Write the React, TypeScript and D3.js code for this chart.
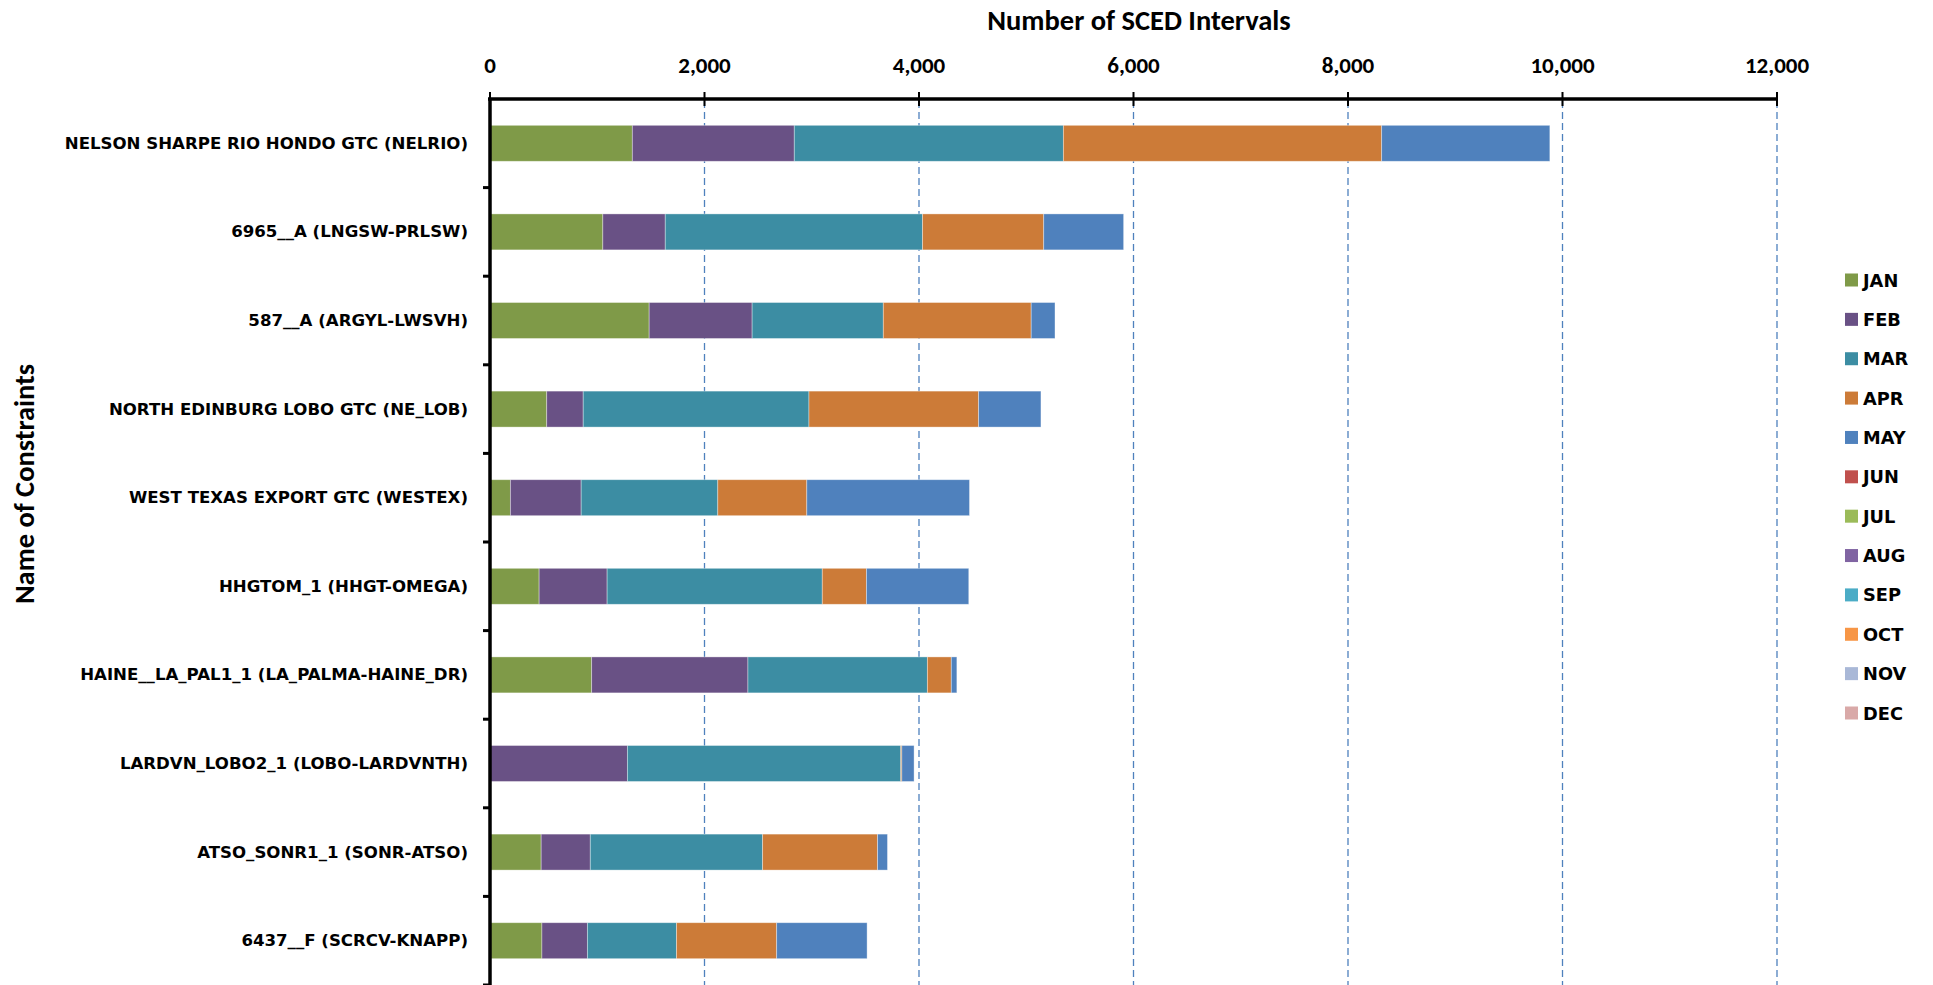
import React from "react";
import * as d3 from "d3";

const categories = [
  "NELSON SHARPE RIO HONDO GTC (NELRIO)",
  "6965__A (LNGSW-PRLSW)",
  "587__A (ARGYL-LWSVH)",
  "NORTH EDINBURG LOBO GTC (NE_LOB)",
  "WEST TEXAS EXPORT GTC (WESTEX)",
  "HHGTOM_1 (HHGT-OMEGA)",
  "HAINE__LA_PAL1_1 (LA_PALMA-HAINE_DR)",
  "LARDVN_LOBO2_1 (LOBO-LARDVNTH)",
  "ATSO_SONR1_1 (SONR-ATSO)",
  "6437__F (SCRCV-KNAPP)",
];

const months = ["JAN", "FEB", "MAR", "APR", "MAY", "JUN", "JUL", "AUG", "SEP", "OCT", "NOV", "DEC"];

const jan = [1327, 1052, 1484, 529, 190, 458, 948, 0, 477, 484];
const feb = [1510, 582, 960, 340, 660, 634, 1457, 1281, 458, 424];
const mar = [2509, 2399, 1223, 2105, 1274, 2006, 1673, 2549, 1607, 831];
const apr = [2968, 1130, 1379, 1582, 830, 412, 223, 10, 1072, 934];
const may = [1568, 745, 222, 581, 1517, 954, 52, 114, 92, 843];
const jun = [0, 0, 0, 0, 0, 0, 0, 0, 0, 0];
const jul = [0, 0, 0, 0, 0, 0, 0, 0, 0, 0];
const aug = [0, 0, 0, 0, 0, 0, 0, 0, 0, 0];
const sep = [0, 0, 0, 0, 0, 0, 0, 0, 0, 0];
const oct = [0, 0, 0, 0, 0, 0, 0, 0, 0, 0];
const nov = [0, 0, 0, 0, 0, 0, 0, 0, 0, 0];
const dec = [0, 0, 0, 0, 0, 0, 0, 0, 0, 0];

const monthColors = [
  "#7F9A48", "#695185", "#3C8DA3", "#CC7B38", "#4F81BD", "#C0504D",
  "#9BBB59", "#8064A2", "#4BACC6", "#F79646", "#A9B8D7", "#D9A9A8",
];

const xTicks = [0, 2000, 4000, 6000, 8000, 10000, 12000];

const xTitle = "Number of SCED Intervals";
const yTitle = "Name of Constraints";

const seriesValues = [jan, feb, mar, apr, may, jun, jul, aug, sep, oct, nov, dec];

const narrow = "Carlito, 'Liberation Sans Narrow', 'Open Sans Condensed', 'Liberation Sans', sans-serif";
const wide = "'DejaVu Sans', Verdana, sans-serif";

export default function App() {
  const W = 1933;
  const H = 985;
  const x = d3.scaleLinear().domain([0, 12000]).range([490, 1777]);
  const y = d3.scaleBand<string>().domain(categories).range([99, 985]).paddingInner(0.594).paddingOuter(0.297);

  const table = categories.map((c, i) => {
    const row: any = { cat: c };
    months.forEach((m, j) => (row[m] = seriesValues[j][i]));
    return row;
  });
  const stacked = d3.stack<any>().keys(months)(table);

  const boundaries = categories.map((_, i) => 99 + y.step() * (i + 1));

  const legendY = d3.scalePoint<string>().domain(months).range([280, 713]);

  return (
    <svg width={W} height={H} style={{ position: "absolute", left: 0, top: 0, background: "#fff" }}>
      {xTicks.filter((t) => t > 0).map((t) => (
        <line key={"g" + t} x1={x(t)} x2={x(t)} y1={101} y2={H} stroke="#4F81BD" strokeWidth={1.3} strokeDasharray="7,4" />
      ))}
      {stacked.map((s, j) => (
        <g key={months[j]} fill={monthColors[j]}>
          {s.map((d, i) =>
            d[1] - d[0] > 0 ? (
              <rect
                key={i}
                x={x(d[0])}
                y={y(categories[i])!}
                width={x(d[1]) - x(d[0])}
                height={y.bandwidth()}
                stroke="#ffffff"
                strokeOpacity={0.45}
                strokeWidth={0.8}
              />
            ) : null
          )}
        </g>
      ))}
      <line x1={x(0) - 2} x2={x(12000) + 1} y1={99} y2={99} stroke="#000" strokeWidth={3.5} />
      {xTicks.map((t) => (
        <line key={"t" + t} x1={x(t)} x2={x(t)} y1={92} y2={106} stroke="#000" strokeWidth={2} />
      ))}
      {xTicks.map((t) => (
        <text
          key={"l" + t}
          x={x(t)}
          y={65}
          textAnchor="middle"
          dominantBaseline="central"
          fontFamily={narrow}
          fontWeight="bold"
          fontSize={23}
          fill="#000"
        >
          {d3.format(",")(t)}
        </text>
      ))}
      <text x={1139} y={20} textAnchor="middle" dominantBaseline="central" fontFamily={narrow} fontWeight="bold" fontSize={28.5}>
        {xTitle}
      </text>
      <line x1={x(0)} x2={x(0)} y1={99} y2={H} stroke="#000" strokeWidth={3.5} />
      {boundaries.map((b, i) => (
        <line key={"b" + i} x1={x(0) - 7} x2={x(0)} y1={b} y2={b} stroke="#000" strokeWidth={3} />
      ))}
      {categories.map((c) => (
        <text
          key={c}
          x={468}
          y={y(c)! + y.bandwidth() / 2}
          textAnchor="end"
          dominantBaseline="central"
          fontFamily={wide}
          fontWeight="bold"
          fontSize={16.6}
          fill="#000"
        >
          {c}
        </text>
      ))}
      <text
        transform={`translate(24,484) rotate(-90)`}
        textAnchor="middle"
        dominantBaseline="central"
        fontFamily={narrow}
        fontWeight="bold"
        fontSize={28.4}
      >
        {yTitle}
      </text>
      {months.map((m, j) => (
        <g key={"lg" + m} transform={`translate(1845,${legendY(m)})`}>
          <rect x={0} y={-6.5} width={13} height={13} fill={monthColors[j]} />
          <text x={18} y={0} dominantBaseline="central" fontFamily={wide} fontWeight="bold" fontSize={17.8}>
            {m}
          </text>
        </g>
      ))}
    </svg>
  );
}
